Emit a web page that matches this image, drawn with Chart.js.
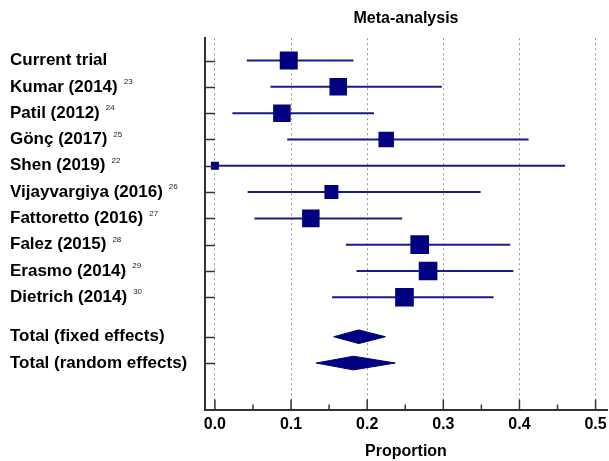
<!DOCTYPE html>
<html><head><meta charset="utf-8">
<script src="https://cdn.jsdelivr.net/npm/chart.js@4/dist/chart.umd.min.js"></script>
<style>html,body{margin:0;padding:0;background:#fff;}#wrap{width:609px;height:461px;}</style>
</head><body><div id="wrap"><canvas id="c" width="609" height="461"></canvas></div>
<script>
// ---- data ----
const studies = ["Current trial","Kumar (2014)","Patil (2012)","Gönç (2017)","Shen (2019)","Vijayvargiya (2016)","Fattoretto (2016)","Falez (2015)","Erasmo (2014)","Dietrich (2014)"];
const refs = ["","23","24","25","22","26","27","28","29","30"];
const estimates = [0.097,0.162,0.088,0.225,0.0,0.153,0.126,0.269,0.280,0.249];
const lowerCI = [0.042,0.073,0.023,0.095,0.0,0.043,0.052,0.172,0.186,0.154];
const upperCI = [0.182,0.298,0.209,0.412,0.460,0.349,0.246,0.388,0.392,0.366];
const weights = [10.1,9.6,9.6,7.5,2.0,6.1,9.6,10.9,10.9,10.9];
const pooledLabels = ["Total (fixed effects)","Total (random effects)"];
const pooledEst = [0.189,0.182];
const pooledLower = [0.156,0.133];
const pooledUpper = [0.224,0.237];
const xTicks = [0,0.1,0.2,0.3,0.4,0.5];
const xMinorTicks = [0.05,0.15,0.25,0.35,0.45];

// ---- layout helpers ----
const studyRows = studies.map((_, i) => i);
const pooledRows = pooledLabels.map((_, i) => studies.length + 0.5 + i);
const NAVY = '#000080';
const LINE = '#1a1a8c';
const FONT = '"Liberation Sans", Arial, sans-serif';
const DIAMOND_H = 0.26;

const datasets = [];
datasets.push({
  type: 'scatter',
  data: studies.map((_, i) => ({x: estimates[i], y: studyRows[i]})),
  pointStyle: 'rect',
  pointRadius: ctx => 4 * Math.sqrt(weights[ctx.dataIndex]),
  pointHoverRadius: ctx => 4 * Math.sqrt(weights[ctx.dataIndex]),
  backgroundColor: NAVY,
  borderWidth: 0,
  order: 0
});
studies.forEach((_, i) => {
  datasets.push({
    type: 'line',
    data: [{x: lowerCI[i], y: studyRows[i]}, {x: upperCI[i], y: studyRows[i]}],
    borderColor: LINE,
    borderWidth: 2,
    pointRadius: 0,
    fill: false,
    order: 2
  });
});
pooledLabels.forEach((_, i) => {
  const r = pooledRows[i];
  datasets.push({
    type: 'line',
    data: [
      {x: pooledLower[i], y: r},
      {x: pooledEst[i], y: r - DIAMOND_H},
      {x: pooledUpper[i], y: r},
      {x: pooledEst[i], y: r + DIAMOND_H},
      {x: pooledLower[i], y: r}
    ],
    borderColor: NAVY,
    backgroundColor: NAVY,
    borderWidth: 1,
    pointRadius: 0,
    tension: 0,
    fill: 'shape',
    order: 1
  });
});

const decor = {
  id: 'decor',
  afterDraw(chart) {
    const ctx = chart.ctx;
    const xs = chart.scales.x, ys = chart.scales.y;
    const area = chart.chartArea;
    ctx.save();
    ctx.strokeStyle = '#333';
    ctx.lineWidth = 1.5;
    [...studyRows, ...pooledRows].forEach(r => {
      const y = Math.round(ys.getPixelForValue(r)) + 0.5;
      ctx.beginPath(); ctx.moveTo(area.left, y); ctx.lineTo(area.left + 10, y); ctx.stroke();
    });
    xTicks.forEach(v => {
      const x = xs.getPixelForValue(v);
      ctx.beginPath(); ctx.moveTo(x, area.bottom); ctx.lineTo(x, area.bottom - 10); ctx.stroke();
    });
    xMinorTicks.forEach(v => {
      const x = xs.getPixelForValue(v);
      ctx.beginPath(); ctx.moveTo(x, area.bottom); ctx.lineTo(x, area.bottom - 5); ctx.stroke();
    });
    ctx.textBaseline = 'middle';
    ctx.textAlign = 'left';
    const labelFont = 'bold 17px ' + FONT;
    const supFont = '8px ' + FONT;
    studies.forEach((s, i) => {
      const y = ys.getPixelForValue(studyRows[i]);
      ctx.font = labelFont; ctx.fillStyle = '#000';
      ctx.fillText(s, 10, y);
      if (refs[i]) {
        const w = ctx.measureText(s).width;
        ctx.font = supFont; ctx.fillStyle = '#222';
        ctx.fillText(refs[i], 10 + w + 6, y - 5);
      }
    });
    pooledLabels.forEach((s, i) => {
      const y = ys.getPixelForValue(pooledRows[i]);
      ctx.font = labelFont; ctx.fillStyle = '#000';
      ctx.fillText(s, 10, y);
    });
    ctx.restore();
  }
};

new Chart(document.getElementById('c'), {
  type: 'scatter',
  data: { datasets },
  options: {
    responsive: false,
    devicePixelRatio: 1,
    animation: false,
    layout: { autoPadding: false, padding: { left: 205, right: 2, top: 0, bottom: 0 } },
    plugins: {
      legend: { display: false },
      tooltip: { enabled: false },
      title: {
        display: true,
        text: 'Meta-analysis',
        fullSize: false,
        color: '#000',
        font: { family: FONT, size: 16, weight: 'bold' },
        padding: { top: 9, bottom: 10 }
      }
    },
    scales: {
      x: {
        type: 'linear',
        min: -0.013,
        max: 0.515,
        afterBuildTicks: s => { s.ticks = xTicks.map(v => ({value: v})); },
        ticks: {
          callback: v => Number(v).toFixed(1),
          color: '#000',
          font: { family: FONT, size: 16, weight: 'bold' },
          padding: 0,
          maxRotation: 0,
          autoSkip: false
        },
        grid: { color: '#999', lineWidth: 1, drawTicks: true, tickLength: 5, tickColor: 'rgba(0,0,0,0)' },
        border: { display: true, color: '#333', width: 2, dash: [2, 3] },
        title: {
          display: true,
          text: 'Proportion',
          color: '#000',
          font: { family: FONT, size: 16, weight: 'bold' },
          padding: { top: 8, bottom: 0 }
        }
      },
      y: {
        type: 'linear',
        reverse: true,
        min: -0.85,
        max: 13.27,
        ticks: { display: false },
        grid: { display: false, drawTicks: false },
        border: { display: true, color: '#333', width: 2 }
      }
    }
  },
  plugins: [decor]
});
</script>
</body></html>
